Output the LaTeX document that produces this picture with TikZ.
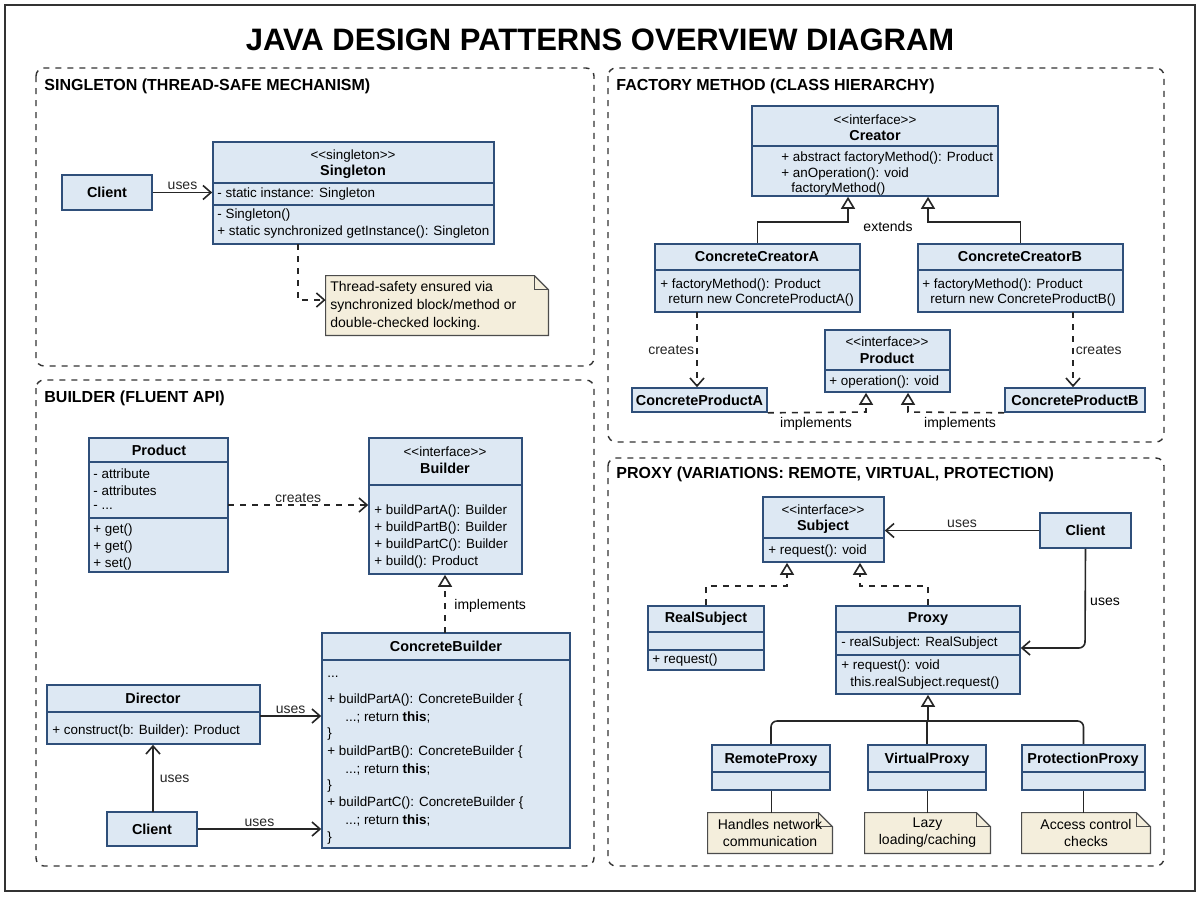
\documentclass[tikz,border=0pt]{standalone}
\usepackage{fontspec}
\setmainfont[Ligatures=NoCommon]{Liberation Sans}
\usetikzlibrary{arrows.meta,calc}
\definecolor{clsfill}{HTML}{DDE8F3}
\definecolor{clsdraw}{HTML}{2F4F7A}
\definecolor{notefill}{HTML}{F4EEDC}
\newcommand\ltlt{{<}{<}}
\newcommand\gtgt{{>}{>}}
\newcommand\ubox[5]{\node[cls, minimum width={(#4-#2)*0.5pt}, minimum height={(#5-#3)*0.5pt}] (#1) at ({(#2+#4)/2},{(#3+#5)/2}) {};}
\newcommand\usep[3]{\draw[clsdraw, line width=0.6pt] (#1,#3) -- (#2,#3);}
\newcommand\unote[5]{\node[minimum width={(#4-#2)*0.5pt}, minimum height={(#5-#3)*0.5pt}, inner sep=0] (#1) at ({(#2+#4)/2},{(#3+#5)/2}) {};
 \draw[fill=notefill, draw=black!70, line width=0.6pt] (#1.south west) -- (#1.north west) -- ($(#1.north east)+(-7pt,0)$) -- ($(#1.north east)+(0,-7pt)$) -- (#1.south east) -- cycle;
 \draw[draw=black!70, line width=0.6pt] ($(#1.north east)+(-7pt,0)$) -- ($(#1.north east)+(-7pt,-7pt)$) -- ($(#1.north east)+(0,-7pt)$);}
\begin{document}
\begin{tikzpicture}[x=0.5pt,y=-0.5pt,
 cls/.style={draw=clsdraw, fill=clsfill, line width=0.8pt, inner sep=0},
 t/.style={font=\fontsize{6.7}{8}\selectfont, inner sep=0, anchor=west},
 tc/.style={font=\fontsize{6.7}{8}\selectfont, inner sep=0},
 tb/.style={font=\fontsize{7.2}{8}\selectfont\bfseries, inner sep=0},
 nt/.style={font=\fontsize{7}{8.5}\selectfont, inner sep=0, anchor=west},
 ntc/.style={font=\fontsize{7}{8.5}\selectfont, inner sep=0, align=center},
 lab/.style={font=\fontsize{7}{8}\selectfont, inner sep=1pt},
 hd/.style={font=\fontsize{8}{9}\selectfont\bfseries, inner sep=0, anchor=west},
 panel/.style={draw=black!80, dashed, line width=0.7pt, rounded corners=4pt},
 conn/.style={line width=0.8pt, black!85},
 dep/.style={conn, dashed, -{Straight Barb[length=4pt,width=7pt]}},
 use/.style={conn, -{Straight Barb[length=4pt,width=7pt]}},
 inh/.style={conn, -{Triangle[open,length=6pt,width=7pt,fill=white]}},
 real/.style={conn, dashed, -{Triangle[open,length=6pt,width=7pt,fill=white]}},
]
\useasboundingbox (0,0) rectangle (1200,896);
\fill[white] (0,0) rectangle (1200,896);
\draw[black!80, line width=0.8pt] (5,5) rectangle (1195,891);
\node[font=\fontsize{15.5}{17}\selectfont\bfseries, inner sep=0] (title) at (600,40) {JAVA DESIGN PATTERNS OVERVIEW DIAGRAM};

% panels
\draw[panel] (36,68) rectangle (594,366);
\draw[panel] (608,68) rectangle (1164,442);
\draw[panel] (36,380) rectangle (594,866);
\draw[panel] (608,458) rectangle (1164,866);
\node[hd] (h1) at (44,86) {SINGLETON (THREAD-SAFE MECHANISM)};
\node[hd] (h2) at (616,86) {FACTORY METHOD (CLASS HIERARCHY)};
\node[hd] (h3) at (44,398) {BUILDER (FLUENT API)};
\node[hd] (h4) at (616,474) {PROXY (VARIATIONS: REMOTE, VIRTUAL, PROTECTION)};

% ---------- Singleton
\ubox{sclient}{62}{175}{152}{210}
\node[tb] (sclientt) at (sclient) {Client};
\ubox{sing}{213}{142}{494}{244}
\usep{213}{494}{183}\usep{213}{494}{205}
\node[tc] (s1) at (353,156) {\ltlt singleton\gtgt};
\node[tb] (s2) at (353,172) {Singleton};
\node[t] (s3) at (217,194) {- static instance: Singleton};
\node[t] (s4) at (217,215) {- Singleton()};
\node[t] (s5) at (217,232) {+ static synchronized getInstance(): Singleton};
\draw[use] (sclient.east) -- (sing.west |- sclient.east) node[lab, midway, above] {uses};
\unote{snote}{326}{276}{548}{335}
\node[nt] (n1) at (330,288) {Thread-safety ensured via};
\node[nt] (n2) at (330,306) {synchronized block/method or};
\node[nt] (n3) at (330,324) {double-checked locking.};
\coordinate (sc1) at (298,244);
\draw[dep] (sc1) |- (snote.west |- 0,300);

% ---------- Factory
\ubox{creator}{752}{106}{998}{196}
\usep{752}{998}{146}
\node[tc] (c1) at (875,120) {\ltlt interface\gtgt};
\node[tb] (c2) at (875,136) {Creator};
\node[t] (c3) at (781,158) {+ abstract factoryMethod(): Product};
\node[t] (c4) at (781,174) {+ anOperation(): void};
\node[t] (c5) at (791,189) {factoryMethod()};
\ubox{cca}{655}{244}{860}{312}
\usep{655}{860}{270}
\node[tb] (ca1) at (757,257) {ConcreteCreatorA};
\node[t] (ca2) at (660,285) {+ factoryMethod(): Product};
\node[t] (ca3) at (668,300) {return new ConcreteProductA()};
\ubox{ccb}{918}{244}{1123}{312}
\usep{918}{1123}{270}
\node[tb] (cb1) at (1020,257) {ConcreteCreatorB};
\node[t] (cb2) at (922,285) {+ factoryMethod(): Product};
\node[t] (cb3) at (930,300) {return new ConcreteProductB()};
\coordinate (fj1) at (848,222);
\coordinate (fj2) at (928,222);
\draw[inh] (cca.north) |- (fj1) -- (fj1 |- creator.south);
\draw[inh] (ccb.north) |- (fj2) -- (fj2 |- creator.south);
\node[lab] (ext) at (888,226) {extends};
\ubox{fprod}{825}{330}{950}{392}
\usep{825}{950}{370}
\node[tc] (p1) at (887,342) {\ltlt interface\gtgt};
\node[tb] (p2) at (887,358) {Product};
\node[t] (p3) at (829,382) {+ operation(): void};
\ubox{cpa}{632}{388}{767}{412}
\node[tb] (cpat) at (cpa) {ConcreteProductA};
\ubox{cpb}{1005}{388}{1145}{412}
\node[tb] (cpbt) at (cpb) {ConcreteProductB};
\coordinate (fa) at (697,312);
\coordinate (fb) at (1073,312);
\draw[dep] (fa) -- (fa |- cpa.north) node[lab, pos=0.5, left] {creates};
\draw[dep] (fb) -- (fb |- cpb.north) node[lab, pos=0.5, right] {creates};
\coordinate (fi1) at (866,412);
\coordinate (fi2) at (908,412);
\draw[real] (cpa.south east) -- (fi1) -- (fi1 |- fprod.south);
\draw[real] (cpb.south west) -- (fi2) -- (fi2 |- fprod.south);
\node[lab] (im1) at (816,424) {implements};
\node[lab] (im2) at (960,424) {implements};

% ---------- Builder
\ubox{bprod}{89}{438}{228}{572}
\usep{89}{228}{462}\usep{89}{228}{518}
\node[tb] (bp1) at (159,450) {Product};
\node[t] (bp2) at (93,474) {- attribute};
\node[t] (bp3) at (93,491) {- attributes};
\node[t] (bp4) at (93,507) {- ...};
\node[t] (bp5) at (93,530) {+ get()};
\node[t] (bp6) at (93,547) {+ get()};
\node[t] (bp7) at (93,564) {+ set()};
\ubox{builder}{369}{438}{522}{574}
\usep{369}{522}{485}
\node[tc] (b1) at (445,452) {\ltlt interface\gtgt};
\node[tb] (b2) at (445,468) {Builder};
\node[t] (b3) at (374,511) {+ buildPartA(): Builder};
\node[t] (b4) at (374,528) {+ buildPartB(): Builder};
\node[t] (b5) at (374,545) {+ buildPartC(): Builder};
\node[t] (b6) at (374,562) {+ build(): Product};
\coordinate (bc) at (228,505);
\draw[dep] (bc) -- (builder.west |- bc) node[lab, midway, above] {creates};
\ubox{cbuild}{322}{633}{570}{848}
\usep{322}{570}{660}
\node[tb] (cb0) at (446,646) {ConcreteBuilder};
\node[t] (k1) at (327,677) {...};
\node[t] (k2) at (327,700) {+ buildPartA(): ConcreteBuilder \{};
\node[t] (k3) at (345,717) {...; return \textbf{this};};
\node[t] (k4) at (327,734) {\}};
\node[t] (k5) at (327,752) {+ buildPartB(): ConcreteBuilder \{};
\node[t] (k6) at (345,769) {...; return \textbf{this};};
\node[t] (k7) at (327,786) {\}};
\node[t] (k8) at (327,803) {+ buildPartC(): ConcreteBuilder \{};
\node[t] (k9) at (345,820) {...; return \textbf{this};};
\node[t] (k10) at (327,838) {\}};
\coordinate (bi) at (445,633);
\draw[real] (bi) -- (bi |- builder.south);
\node[lab, anchor=west] (bim) at (452,606) {implements};
\ubox{director}{47}{685}{260}{744}
\usep{47}{260}{712}
\node[tb] (d1) at (153,698) {Director};
\node[t] (d2) at (52,731) {+ construct(b: Builder): Product};
\coordinate (bd) at (260,716);
\draw[use] (bd) -- (cbuild.west |- bd) node[lab, midway, above] {uses};
\ubox{bclient}{107}{812}{197}{846}
\node[tb] (bct) at (bclient) {Client};
\coordinate (bcu) at (153,812);
\draw[use] (bcu) -- (bcu |- director.south) node[lab, midway, right=2pt] {uses};
\draw[use] (bclient.east) -- (cbuild.west |- bclient.east) node[lab, midway, above] {uses};

% ---------- Proxy
\ubox{subject}{763}{497}{884}{562}
\usep{763}{884}{538}
\node[tc] (su1) at (823,510) {\ltlt interface\gtgt};
\node[tb] (su2) at (823,527) {Subject};
\node[t] (su3) at (768,551) {+ request(): void};
\ubox{pclient}{1040}{513}{1131}{548}
\node[tb] (pct) at (pclient) {Client};
\draw[use] (pclient.west) -- (subject.east |- pclient.west) node[lab, midway, above] {uses};
\ubox{realsub}{648}{606}{764}{670}
\usep{648}{764}{632}\usep{648}{764}{650}
\node[tb] (r1) at (706,619) {RealSubject};
\node[t] (r2) at (652,660) {+ request()};
\ubox{proxy}{836}{606}{1020}{694}
\usep{836}{1020}{632}\usep{836}{1020}{655}
\node[tb] (px1) at (928,619) {Proxy};
\node[t] (px2) at (841,643) {- realSubject: RealSubject};
\node[t] (px3) at (841,666) {+ request(): void};
\node[t] (px4) at (850,683) {this.realSubject.request()};
\coordinate (pj1) at (787,586);
\coordinate (pj2) at (860,586);
\draw[real] (realsub.north) |- (pj1) -- (pj1 |- subject.south);
\draw[real] (proxy.north) |- (pj2) -- (pj2 |- subject.south);
\coordinate (pcu) at (1085,648);
\draw[use, rounded corners=3pt] (pclient.south) -- (pcu) -- (proxy.east |- pcu);
\node[lab] (pcul) at (1105,602) {uses};
\ubox{rp}{712}{745}{830}{790}
\ubox{vp}{868}{745}{986}{790}
\ubox{pp}{1022}{745}{1145}{790}
\usep{712}{830}{772}\usep{868}{986}{772}\usep{1022}{1145}{772}
\node[tb] (rpt) at (771,760) {RemoteProxy};
\node[tb] (vpt) at (927,760) {VirtualProxy};
\node[tb] (ppt) at (1083,760) {ProtectionProxy};
\coordinate (pj3) at (928,721);
\draw[conn, rounded corners=3pt] (rp.north) |- (pj3) -| (pp.north);
\draw[conn] (vp.north) -- (vp.north |- pj3);
\draw[inh] (pj3) -- (pj3 |- proxy.south);
\unote{n1b}{708}{813}{832}{853}
\unote{n2b}{865}{813}{990}{853}
\unote{n3b}{1022}{813}{1150}{853}
\node[ntc] (n1t) at (n1b) {Handles network\\communication};
\node[ntc] (n2t) at (n2b) {Lazy\\loading/caching};
\node[ntc] (n3t) at (n3b) {Access control\\checks};
\draw[conn, line width=0.5pt] (rp.south) -- (rp.south |- n1b.north);
\draw[conn, line width=0.5pt] (vp.south) -- (vp.south |- n2b.north);
\draw[conn, line width=0.5pt] (pp.south) -- (pp.south |- n3b.north);
\end{tikzpicture}
\end{document}
